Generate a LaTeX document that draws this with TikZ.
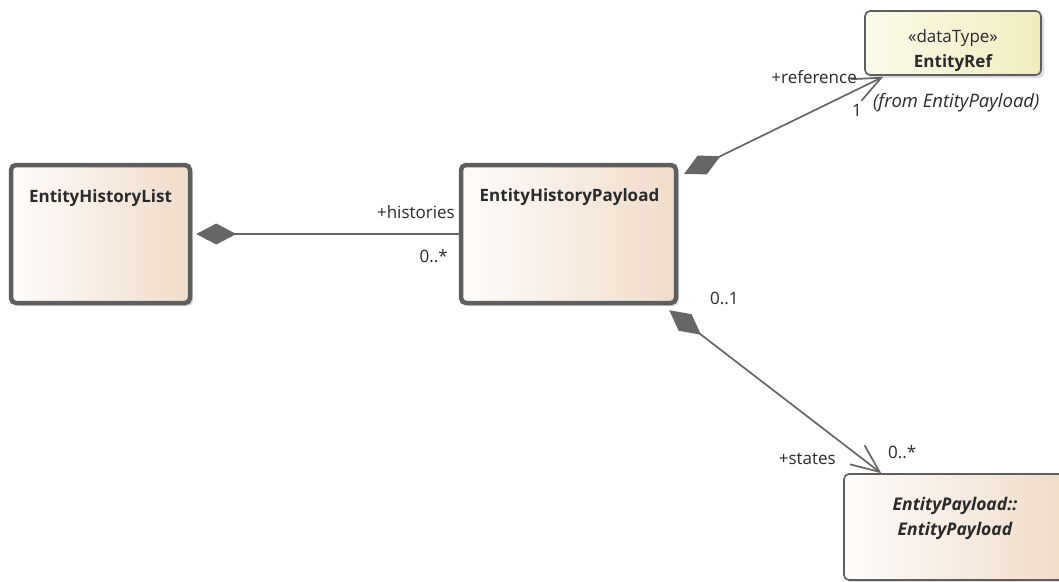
\documentclass[tikz,border=0pt]{standalone}
\usepackage{fontspec}
\setmainfont{Open Sans}
\usetikzlibrary{arrows.meta,calc,shadows}
\definecolor{bordc}{HTML}{5E5E5E}
\definecolor{linec}{HTML}{666666}
\definecolor{clsA}{HTML}{FEFCFB}
\definecolor{clsM}{HTML}{F9F0E9}
\definecolor{clsB}{HTML}{F0DCCA}
\definecolor{dtA}{HTML}{FBFBEA}
\definecolor{dtM}{HTML}{F7F5DA}
\definecolor{dtB}{HTML}{F1ECBF}
\definecolor{txtc}{HTML}{2A2A2A}
\begin{document}
\begin{tikzpicture}[x=1pt,y=-1pt,
  every node/.style={text=txtc, font=\fontsize{17}{20}\selectfont},
  bf/.style={font=\fontsize{17}{20}\selectfont\bfseries},
  thickbox/.style={draw=bordc, line width=4.5pt, rounded corners=5pt,
    left color=clsA, middle color=clsM, right color=clsB,
    drop shadow={shadow xshift=3pt, shadow yshift=-3pt, fill=black!30, opacity=0.45},
    inner sep=0pt, minimum width=#1},
  thinbox/.style={draw=bordc, line width=1.6pt, rounded corners=5pt,
    drop shadow={shadow xshift=3pt, shadow yshift=-3pt, fill=black!30, opacity=0.45},
    inner sep=0pt},
  clsfill/.style={left color=clsA, middle color=clsM, right color=clsB},
  dtfill/.style={left color=dtA, middle color=dtM, right color=dtB},
  lbl/.style={inner sep=0pt},
  comp/.style={draw=linec, line width=1.7pt, {Diamond[length=40pt,width=21pt,fill=linec]}-},
  comppnav/.style={draw=linec, line width=1.7pt, {Diamond[length=40pt,width=21pt,fill=linec]}-{Straight Barb[length=28pt,width=24pt]}}
]
\useasboundingbox (0,0) rectangle (1059,581);
\fill[white] (0,0) rectangle (1059,581);

% boxes
\node[thickbox=179pt, minimum height=138pt] (ehl) at (100.5,234) {};
\node[thickbox=215pt, minimum height=138pt] (ehp) at (568.5,234) {};
\node[thinbox, dtfill, minimum width=176pt, minimum height=64pt] (ref) at (953,43) {};
\node[thinbox, clsfill, minimum width=222pt, minimum height=106pt] (ep) at (955,527) {};

% box texts
\node[lbl, anchor=base, bf] (ehlT) at (100.5,202) {EntityHistoryList};
\node[lbl, anchor=base, bf] (ehpT) at (569.5,201) {EntityHistoryPayload};
\node[lbl, anchor=base] (refS) at (953,42) {«dataType»};
\node[lbl, anchor=base, bf] (refT) at (953,67) {EntityRef};
\node[lbl, anchor=base west, font=\fontsize{18.5}{21}\selectfont\itshape] (refF) at (873,107) {(from EntityPayload)};
\node[lbl, anchor=base, font=\fontsize{17.5}{20}\selectfont\bfseries\itshape] (epT1) at (955,510) {EntityPayload::};
\node[lbl, anchor=base, font=\fontsize{17.5}{20}\selectfont\bfseries\itshape] (epT2) at (955,535) {EntityPayload};

% connectors
\draw[comp] ($(ehl.east)+(4,0)$) -- (ehp.west);
\draw[comppnav] ($(ehp.north east)+(6,11)$) -- ($(ref.south west)+(19,1)$);
\draw[comppnav] ($(ehp.south east)+(-9,5)$) -- ($(ep.north west)+(38,0)$);

% connector labels
\node[lbl, anchor=base east] (lh) at (455,218) {+histories};
\node[lbl, anchor=base east] (lhm) at (448,262) {0..*};
\node[lbl, anchor=base east] (lr) at (857,83) {+reference};
\node[lbl, anchor=base] (lrm) at (857,116) {1};
\node[lbl, anchor=base west] (lsm0) at (710,304) {0..1};
\node[lbl, anchor=base east] (ls) at (836,464) {+states};
\node[lbl, anchor=base west] (lsm) at (888,458) {0..*};
\end{tikzpicture}
\end{document}
